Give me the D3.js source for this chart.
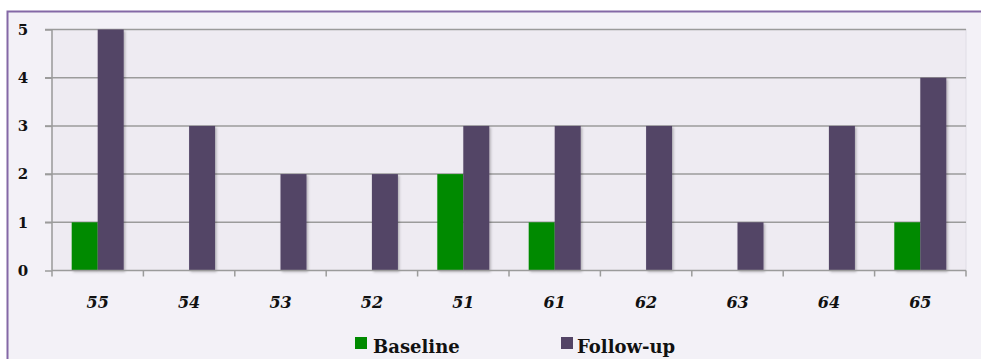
<!DOCTYPE html>
<html>
<head>
<meta charset="utf-8">
<script src="https://cdn.jsdelivr.net/npm/d3@7"></script>
<style>
  html, body { margin: 0; padding: 0; background: #ffffff; }
  svg { display: block; }
</style>
</head>
<body>
<script>
// Chart data
const categories = ["55", "54", "53", "52", "51", "61", "62", "63", "64", "65"];
const baseline   = [1, 0, 0, 0, 2, 1, 0, 0, 0, 1];
const followUp   = [5, 3, 2, 2, 3, 3, 3, 1, 3, 4];
const seriesNames = ["Baseline", "Follow-up"];
const yTicks = [0, 1, 2, 3, 4, 5];

const W = 981, H = 359;
const colors = { "Baseline": "#008a00", "Follow-up": "#534466" };
const serif = "'DejaVu Serif', 'Liberation Serif', serif";

const svg = d3.select("body").append("svg").attr("width", W).attr("height", H);

const defs = svg.append("defs");
const shadow = defs.append("filter").attr("id", "shadow")
  .attr("x", "-20%").attr("y", "-5%").attr("width", "150%").attr("height", "115%");
shadow.append("feDropShadow").attr("dx", 1.5).attr("dy", 1.5).attr("stdDeviation", 1.2)
  .attr("flood-color", "#000").attr("flood-opacity", 0.25);

// Outer frame
svg.append("rect").attr("x", 7.5).attr("y", 11.5).attr("width", W).attr("height", H)
  .attr("fill", "#f3f1f7").attr("stroke", "#8468a6").attr("stroke-width", 2);

const plot = { left: 52, right: 966, top: 29.5, bottom: 270.5 };

const x = d3.scaleBand().domain(categories).range([plot.left, plot.right]);
const y = d3.scaleLinear().domain([0, 5]).range([plot.bottom, plot.top]);
const barW = 26;

// Plot area
svg.append("rect").attr("x", plot.left).attr("y", plot.top)
  .attr("width", plot.right - plot.left).attr("height", plot.bottom - plot.top)
  .attr("fill", "#eeebf2").attr("stroke", "#e0dde6").attr("stroke-width", 1);

// Grid lines
svg.append("g").selectAll("line").data(yTicks.filter(d => d > 0)).join("line")
  .attr("x1", plot.left - 7).attr("x2", plot.right)
  .attr("y1", d => y(d)).attr("y2", d => y(d))
  .attr("stroke", "#9b9b9b").attr("stroke-width", 1.5);

// Bars
const groups = svg.append("g").selectAll("g").data(categories).join("g");
groups.append("rect")
  .attr("x", (d, i) => x(d) + x.bandwidth() / 2 - barW)
  .attr("y", (d, i) => y(baseline[i]))
  .attr("width", barW)
  .attr("height", (d, i) => y(0) - y(baseline[i]))
  .attr("fill", colors["Baseline"])
  .attr("filter", "url(#shadow)");
groups.append("rect")
  .attr("x", (d, i) => x(d) + x.bandwidth() / 2)
  .attr("y", (d, i) => y(followUp[i]))
  .attr("width", barW)
  .attr("height", (d, i) => y(0) - y(followUp[i]))
  .attr("fill", colors["Follow-up"])
  .attr("filter", "url(#shadow)");

// Y axis
const yAxis = svg.append("g").attr("transform", `translate(${plot.left},0)`)
  .call(d3.axisLeft(y).tickValues(yTicks).tickSize(7).tickPadding(12).tickFormat(d3.format("d")));
yAxis.select(".domain").attr("stroke", "#9b9b9b").attr("stroke-width", 1.5).attr("d", `M0,${plot.top}V${plot.bottom}`);
yAxis.selectAll(".tick line").attr("stroke", "#9b9b9b").attr("stroke-width", 1.5);
yAxis.selectAll(".tick text")
  .attr("fill", "#111").attr("text-anchor", "middle").attr("x", -29)
  .style("font-family", serif)
  .style("font-weight", "bold").style("font-size", "15px");

// X axis
const xAxis = svg.append("g").attr("transform", `translate(0,${plot.bottom})`)
  .call(d3.axisBottom(x).tickSize(0).tickPadding(26));
xAxis.select(".domain").attr("stroke", "#9b9b9b").attr("stroke-width", 1.5)
  .attr("d", `M${plot.left},0H${plot.right}`);
xAxis.selectAll(".tick text")
  .attr("fill", "#111")
  .style("font-family", serif)
  .style("font-weight", "bold").style("font-style", "italic").style("font-size", "16px");
// Category boundary ticks
xAxis.append("g").selectAll("line").data(categories.concat([null])).join("line")
  .attr("x1", d => d === null ? plot.right : x(d))
  .attr("x2", d => d === null ? plot.right : x(d))
  .attr("y1", 0).attr("y2", 6)
  .attr("stroke", "#9b9b9b").attr("stroke-width", 1.5);

// Legend
const legendItems = [
  { name: seriesNames[0], x: 355, gap: 18 },
  { name: seriesNames[1], x: 561, gap: 16 }
];
const legend = svg.append("g").selectAll("g").data(legendItems).join("g")
  .attr("transform", d => `translate(${d.x},0)`);
legend.append("rect").attr("x", 0).attr("y", 337).attr("width", 12).attr("height", 12)
  .attr("fill", d => colors[d.name]);
legend.append("text").attr("x", d => d.gap).attr("y", 353).text(d => d.name)
  .attr("fill", "#111")
  .style("font-family", serif)
  .style("font-weight", "bold").style("font-size", "18px");
</script>
</body>
</html>
